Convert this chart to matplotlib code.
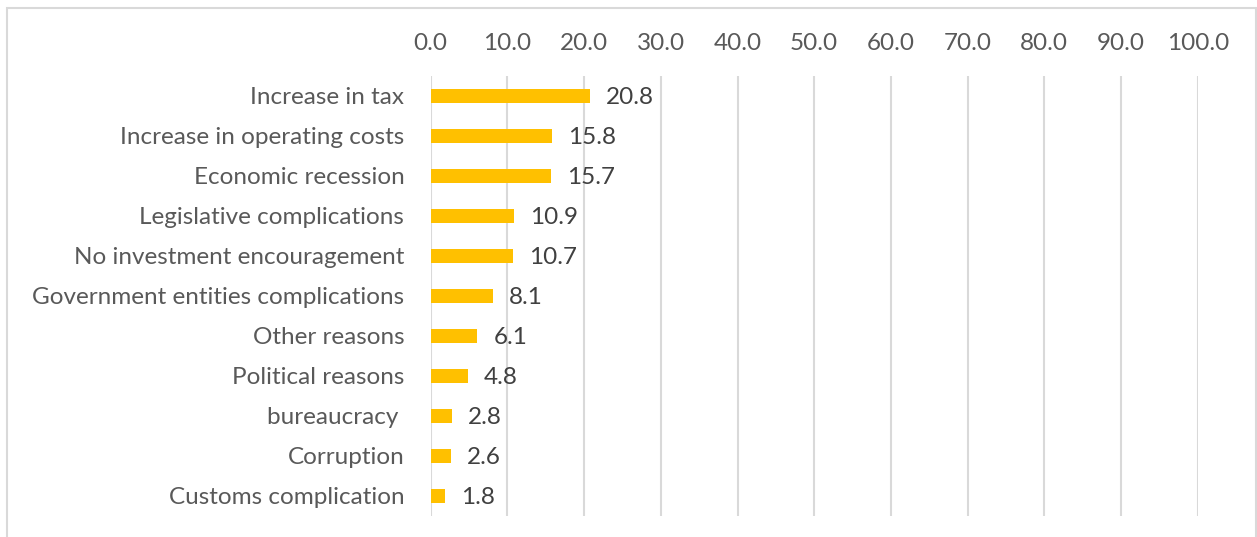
import matplotlib
matplotlib.use("Agg")
import matplotlib.pyplot as plt
from matplotlib.patches import Rectangle

categories = [
    "Increase in tax",
    "Increase in operating costs",
    "Economic recession",
    "Legislative complications",
    "No investment encouragement",
    "Government entities complications",
    "Other reasons",
    "Political reasons",
    "bureaucracy ",
    "Corruption",
    "Customs complication",
]
values = [20.8, 15.8, 15.7, 10.9, 10.7, 8.1, 6.1, 4.8, 2.8, 2.6, 1.8]
x_ticks = [0, 10, 20, 30, 40, 50, 60, 70, 80, 90, 100]

W, H, DPI = 1257, 537, 100
text_color = "#595959"
grid_color = "#D9D9D9"
bar_color = "#FFC000"
plt.rcParams["font.family"] = ["Lato", "DejaVu Sans"]

fig = plt.figure(figsize=(W / DPI, H / DPI), dpi=DPI)
fig.patch.set_facecolor("white")

# chart frame
fig.add_artist(Rectangle((7 / W, -0.05), (1256 - 7) / W, 1 - 8 / H + 0.05,
                         transform=fig.transFigure, fill=False,
                         edgecolor=grid_color, linewidth=1.5))

ax = fig.add_axes([430.7 / W, 1 - 516 / H, 767 / W, 440 / H])
pos = list(range(len(categories)))
ax.barh(pos, values, height=0.36, color=bar_color, zorder=3)
for p, v in zip(pos, values):
    ax.text(v + 2.1, p + 0.05, f"{v:.1f}", va="center", ha="left",
            fontsize=17.5, color="#404040")

ax.set_xlim(0, 100)
ax.set_ylim(len(categories) - 0.5, -0.5)
ax.set_xticks(x_ticks)
ax.set_xticklabels([f"{t:.1f}" for t in x_ticks])
ax.xaxis.tick_top()
ax.tick_params(axis="x", length=0, pad=16, labelsize=17.5, labelcolor=text_color)
ax.set_yticks(pos)
ax.set_yticklabels(categories)
ax.tick_params(axis="y", length=0, pad=19, labelsize=17.5, labelcolor=text_color)
ax.grid(axis="x", color=grid_color, linewidth=1.5, zorder=0)
for s in ax.spines.values():
    s.set_visible(False)

fig.savefig("out.png", dpi=DPI)
